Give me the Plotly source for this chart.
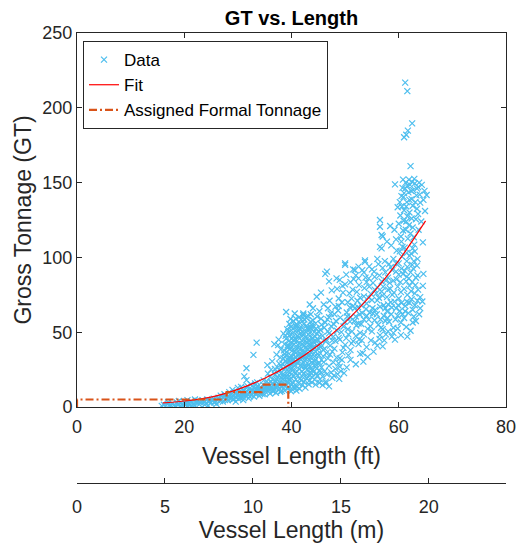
import plotly.graph_objects as go

# ---------------- data ----------------
# scattered vessel data: (length ft, gross tonnage)
pts_small = [(15.8,0.8),(16.2,1.5),(16.5,0.3),(16.9,2.0),(17.2,1.1),(17.5,0.5),(17.8,2.4),(18.1,1.3),
    (18.3,0.2),(18.6,3.0),(18.9,1.7),(19.2,0.6),(19.4,2.6),(19.7,1.0),(20.0,3.4),(20.2,1.9),(20.5,0.4),
    (20.8,2.8),(21.0,1.4),(21.3,3.8),(21.6,2.2),(21.9,0.9),(22.2,3.1),(22.5,4.2),(22.8,1.8),(23.1,2.9),
    (23.4,4.6),(23.7,3.5),(24.0,2.3),(24.3,5.0),(24.6,3.9),(24.9,2.8),(25.2,4.4),(25.5,5.6),(25.8,3.4),
    (26.1,4.8),(26.4,6.2),(26.7,3.9),(27.0,5.3),(27.3,6.8),(27.6,4.6),(27.9,5.9),(26.0,2.0),(22.0,5.0),
    (24.5,0.8),(19.0,4.0),(17.0,3.2),(20.6,4.6)]
pts_band = [(28.1,4.5),(28.3,7.2),(28.5,5.8),(28.7,8.6),(28.9,6.4),(29.1,4.9),(29.3,7.8),(29.5,9.4),
    (29.7,6.1),(29.9,8.2),(30.1,5.4),(30.3,10.1),(30.5,7.3),(30.7,8.9),(30.9,6.6),(31.1,11.0),(31.3,9.2),
    (31.5,7.5),(31.7,10.5),(31.9,8.3),(32.1,12.0),(32.3,9.8),(32.5,7.8),(32.7,11.3),(32.9,13.2),(33.1,10.0),
    (33.3,8.6),(33.5,12.4),(33.7,14.0),(33.9,10.8),(34.1,9.2),(34.3,13.1),(34.5,11.5),(34.7,15.0),(34.9,12.2),
    (35.1,10.3),(35.3,14.1),(35.5,12.8),(35.7,16.0),(35.9,11.4),(29.0,11.5),(30.0,12.8),(31.0,4.6),(32.0,5.8),
    (33.0,6.9),(34.0,7.4),(35.0,8.4),(36.0,9.0),(30.6,13.5),(32.4,15.2),(28.4,9.9),(33.6,16.5),(31.8,14.0),
    (29.6,3.6),(27.5,8.5),(26.8,7.6),(34.8,17.8),(36.2,13.3),(36.4,15.6),(36.6,10.5),
    (33.5,43.0),(32.9,34.8),(31.6,25.9),(31.6,18.0),(37.5,41.4),(31.2,20.5)]
pts_band2 = [(28.0,6.0),(28.6,7.8),(29.2,5.5),(29.8,9.8),(30.4,6.0),(31.0,8.0),(31.6,12.6),(32.2,7.0),
    (32.8,9.4),(33.4,11.2),(34.0,12.0),(34.6,8.6),(35.2,12.2),(35.8,13.6),(36.4,11.0),(37.0,13.0),(37.6,15.4),
    (38.2,10.8),(38.8,13.9),(39.4,15.8),(39.9,10.5),(40.4,14.0),(40.9,11.0),(41.5,12.2),(42.0,14.5),(42.6,13.0),
    (43.2,15.2),(43.8,16.5),(44.5,15.0),(45.2,16.2),(45.8,14.6),(46.4,15.8),(47.0,13.8),(30.8,9.8),(32.6,10.6),
    (34.4,10.2),(36.2,16.8),(37.2,18.5),(35.4,17.0),(33.2,15.8),(27.2,3.6),(26.4,5.2),(25.6,3.0),(24.8,4.1),
    (23.8,1.6),(22.6,2.6),(21.4,0.6),(20.4,2.3),(19.6,1.8),(18.4,0.9)]
pts_mid = [(36.8,12.0),(37.0,17.2),(37.2,14.5),(37.4,20.1),(37.6,11.8),(37.8,16.4),(38.0,22.5),(38.2,13.6),
    (38.4,18.8),(38.6,25.0),(38.8,15.2),(39.0,20.7),(39.2,12.4),(39.4,23.6),(39.6,17.9),(39.8,27.0),(40.0,14.8),
    (37.1,9.5),(37.9,10.2),(38.7,11.1),(39.5,13.0),(36.5,18.5),(37.3,22.8),(38.1,27.2),(38.9,30.5),(36.0,20.0),
    (35.6,22.3),(36.9,25.5),(37.7,29.0),(38.5,32.5),(36.3,12.1),(37.5,13.9),(38.3,16.0),(39.1,17.5),(39.9,19.4),
    (36.7,15.0),(38.0,19.5),(39.3,21.5),(40.2,11.6),(40.5,12.9),(41.0,13.5)]
pts_core = [(40.3,16.2),(40.8,18.5),(41.3,15.8),(41.8,17.9),(42.3,16.7),(42.8,19.2),(43.3,17.5),(43.8,20.1),
    (44.3,18.3),(44.8,21.0),(41.1,21.2),(42.0,20.5),(43.0,22.0),(40.0,21.8),(39.7,23.0),
    (39.5,26.0),(39.9,28.4),(40.2,24.3),(40.5,27.6),(40.8,23.0),(41.1,29.3),(41.4,25.5),(41.7,27.9),(42.0,23.8),
    (42.3,29.7),(42.6,26.2),(42.9,24.6),(43.2,28.5),(43.5,25.3),(43.8,29.9),(44.1,23.5),(44.4,27.0),(44.7,25.8),
    (45.0,28.8),(45.3,24.2),(39.2,29.5),(40.6,30.0),(41.9,26.8),(43.6,22.9),
    (38.8,33.5),(39.1,36.8),(39.4,31.2),(39.7,38.5),(40.0,34.0),(40.3,31.9),(40.6,37.1),(40.9,33.2),(41.2,39.4),
    (41.5,35.6),(41.8,31.5),(42.1,37.8),(42.4,34.2),(42.7,32.0),(43.0,38.6),(43.3,35.3),(43.6,33.1),(43.9,39.2),
    (44.2,36.0),(44.5,31.7),(44.8,38.0),(45.1,34.6),(39.8,32.5),(40.8,36.0),(41.7,33.9),(42.6,36.5),(43.4,31.0),
    (44.3,33.8),(38.6,37.8),(39.3,39.8),
    (38.7,42.0),(39.0,45.6),(39.3,41.3),(39.6,47.8),(39.9,43.2),(40.2,49.0),(40.5,41.9),(40.8,45.3),(41.1,47.6),
    (41.4,42.5),(41.7,49.5),(42.0,44.1),(42.3,40.6),(42.6,46.7),(42.9,43.0),(43.2,48.4),(43.5,41.7),(43.8,45.9),
    (44.1,43.6),(44.4,47.3),(44.7,41.0),(45.0,44.8),(40.0,40.5),(41.0,44.0),(42.2,48.0),(43.0,46.0),
    (39.2,52.0),(39.6,55.5),(40.0,51.2),(40.4,57.3),(40.8,53.6),(41.2,50.8),(41.6,56.1),(42.0,52.7),(42.4,58.5),
    (42.8,54.3),(43.2,51.5),(43.6,57.0),(44.0,53.1),(44.5,55.9),(45.0,50.6),(38.5,49.0),(41.4,60.0),(40.6,62.5),
    (39.8,58.8),(43.0,61.0),(37.6,45.0),(38.0,38.5),(37.2,35.0),(36.4,30.5),(35.5,28.0),(36.8,42.0),(42.2,62.5),
    (39.0,63.5),(44.8,60.5)]
pts_core2 = [(38.4,22.0),(38.9,26.5),(39.3,19.8),(39.7,31.0),(40.1,26.0),(40.4,20.5),(40.7,33.5),(41.0,24.0),
    (41.3,30.8),(41.6,19.0),(41.9,35.0),(42.2,22.3),(42.5,27.4),(42.8,33.8),(43.1,20.0),(43.4,27.0),(43.7,36.5),
    (44.0,25.0),(44.3,30.5),(44.6,22.2),(44.9,35.5),(45.2,29.5),(45.5,23.0),(39.0,34.5),(39.6,40.5),(40.1,37.5),
    (40.5,44.5),(40.9,39.0),(41.3,46.5),(41.6,38.5),(42.0,42.0),(42.3,37.0),(42.7,40.0),(43.1,44.5),(43.4,39.5),
    (43.8,42.5),(44.2,40.0),(44.6,44.0),(45.0,39.5),(45.4,42.5),(39.4,50.0),(39.9,53.5),(40.3,47.0),(40.7,51.0),
    (41.0,55.0),(41.5,52.5),(41.9,47.5),(42.3,55.5),(42.6,50.5),(43.0,53.0),(43.4,49.5),(43.8,55.0),(44.2,50.0),
    (44.6,52.5),(45.2,47.0),(45.6,55.0),(40.0,45.5),(42.5,44.0),(44.0,46.0),(41.2,41.5),(43.3,42.0),(38.3,29.0),
    (38.7,35.5),(37.9,33.0),(37.4,26.5),(36.9,21.5),(36.2,25.0),(37.8,24.5),(38.5,20.5),(39.6,33.5),(40.4,29.5),
    (41.5,32.5),(42.4,31.2),(43.2,34.0),(44.5,28.5),(45.6,31.5),(45.9,34.0),(46.2,39.0),(46.5,45.0),(46.8,50.5),
    (45.4,51.5),(44.0,58.0),(42.8,59.5),(41.8,58.5),(40.8,59.0),(43.6,62.0),(45.5,59.0),(46.3,56.5),(47.0,60.0),
    (39.5,44.0),(38.9,47.5),(40.7,54.7),(42.1,50.0),(43.6,52.8),(44.8,49.0)]
pts_blob = [(45.8,20.5),(46.2,24.0),(46.6,21.8),(47.0,27.5),(47.4,23.2),(47.8,29.8),(48.2,25.5),(48.6,22.0),
    (49.0,27.0),(49.4,31.5),(46.0,30.0),(46.8,32.5),(47.6,19.5),(48.4,33.0),(49.2,24.0),(45.6,26.5),(47.2,35.0),
    (48.8,29.2),(49.8,22.6),(50.3,26.5),(46.4,17.0),(45.3,18.5),(47.9,21.0),(48.9,18.8)]
pts_upper_mid = [(44.7,73.7),(42.2,61.5),(45.5,40.2),(45.8,47.5),(46.1,53.0),(46.4,43.8),(46.7,58.6),(47.0,49.2),
    (47.3,62.5),(47.6,44.5),(47.9,55.3),(48.2,67.0),(48.5,51.0),(48.8,46.2),(49.1,59.7),(49.4,70.0),(49.7,53.8),
    (50.0,41.5),(50.3,63.2),(50.6,48.6),(50.9,57.1),(51.2,72.4),(51.5,44.0),(51.8,66.0),(52.1,54.5),(45.2,64.0),
    (46.0,68.5),(47.1,71.0),(48.0,39.0),(49.5,36.5),(51.0,38.0),(52.5,42.0),(46.5,36.0),(45.9,38.2),(44.0,66.0),
    (43.4,68.5),(53.4,30.3),(52.0,28.6),(55.3,37.0),(58.7,47.0),(54.2,33.5),(56.0,41.0),(57.3,44.5),(58.0,50.5),
    (59.3,45.0),(57.0,52.0),(56.5,48.0),(59.8,52.5),(51.0,31.5),(52.8,35.5),
    (46.6,90.5),(46.3,89.0),(49.0,85.0),(50.2,88.5),(51.5,92.0),(52.5,86.0),(53.5,90.0),(54.5,94.0),(55.5,87.0),
    (56.2,95.5),(48.5,79.0),(50.0,82.0),(47.5,78.0),(48.4,86.0),(50.0,96.0),(53.7,97.0)]
pts_right = [(52.0,60.5),(52.4,66.8),(52.8,73.0),(53.2,62.7),(53.6,79.5),(54.0,69.2),(54.4,58.4),(54.8,75.6),
    (55.2,83.0),(55.6,64.9),(56.0,71.3),(56.4,88.0),(56.8,77.2),(57.2,61.0),(57.6,84.5),(58.0,68.6),(52.6,81.5),
    (53.0,55.5),(53.8,86.5),(54.6,63.0),(55.4,90.5),(56.2,55.0),(57.0,93.0),(57.8,73.5),(51.4,78.5),(50.8,76.0),
    (55.0,50.5),(53.5,48.5),(54.2,52.2),(56.6,58.5),
    (58.4,79.0),(58.8,91.5),(59.2,70.4),(59.6,85.3),(60.0,96.0),(60.4,76.8),(60.8,88.9),(61.2,67.5),(61.6,93.7),
    (62.0,81.0),(62.4,72.0),(62.8,97.5),(63.2,86.4),(63.6,78.5),(64.0,66.0),(63.0,68.0),(64.6,89.0),(58.6,62.0),
    (59.4,58.5),(60.2,64.2),(61.0,59.5),(61.8,62.8),(62.6,56.5),(58.2,95.5),(59.0,99.0),(60.6,100.5),(61.4,84.0),
    (62.2,90.0),(59.8,80.5),(58.0,86.5),(57.4,97.5),(63.4,94.5),(62.8,60.5),(60.0,72.5),(61.6,75.0),(57.8,64.0)]
pts_right2 = [(50.5,52.0),(51.0,60.0),(51.5,67.5),(52.0,47.5),(52.5,55.8),(53.0,68.0),(53.5,74.0),(54.0,61.0),
    (54.5,80.5),(55.0,71.5),(55.5,58.0),(56.0,80.0),(56.5,67.0),(57.0,74.5),(57.5,57.5),(58.0,78.5),(58.5,70.0),
    (59.0,84.5),(59.5,66.0),(60.0,88.5),(60.5,69.5),(61.0,79.0),(61.5,87.0),(62.0,69.5),(62.5,83.5),(63.0,76.0),
    (63.5,88.0),(64.0,73.5),(64.5,81.0),(58.2,57.0),(59.0,53.0),(60.4,56.5),(61.4,53.5),(62.2,51.0),(57.5,90.0),
    (58.5,93.5),(59.5,96.0),(60.5,92.5),(61.5,97.5),(62.5,95.0),(63.5,99.0),(55.8,76.0),(56.8,84.0),(54.4,86.0),
    (53.2,91.5),(52.2,77.0),(51.6,85.5),(50.5,70.0),(49.6,76.5),(48.8,72.5),(48.0,62.0),(47.4,54.0),(49.0,45.0),
    (50.2,46.0),(52.8,49.5),(54.8,44.5),(56.4,45.5),(57.6,48.5),(59.0,49.5),(60.4,48.0),(61.6,47.0),(55.2,62.5),
    (59.8,61.0),(63.8,62.0),(64.4,70.5),(63.2,57.5),(62.6,65.0),(61.2,64.0),(58.8,75.0),(57.2,68.0)]
pts_right3 = [(47.2,41.0),(47.8,47.0),(48.3,57.5),(48.7,64.5),(49.3,50.0),(49.9,57.0),(50.4,60.5),(50.9,66.5),
    (51.3,50.5),(51.7,57.5),(52.3,71.0),(52.7,62.0),(53.1,44.5),(53.5,58.5),(53.9,65.5),(54.3,73.5),(54.7,54.0),
    (55.1,66.0),(55.5,78.5),(55.9,62.0),(56.3,73.0),(56.7,53.0),(57.1,80.5),(57.5,66.0),(57.9,59.5),(58.3,83.0),
    (58.7,66.5),(59.1,76.5),(59.5,90.5),(59.9,68.0),(60.3,83.5),(60.7,62.0),(61.1,91.0),(61.5,70.5),(61.9,86.0),
    (62.3,77.5),(62.7,92.5),(63.1,81.5),(63.5,71.0),(48.2,44.0),(49.7,39.5),(51.2,42.5),(52.6,45.0),(54.0,40.0),
    (55.6,43.0),(57.0,40.5),(53.3,36.0),(50.6,34.5),(49.0,32.5),(47.6,37.0),(55.0,92.0),(56.0,99.0),(54.0,83.5),
    (52.0,88.0),(51.0,83.5),(49.5,81.0),(47.0,84.0),(45.5,76.5),(46.8,66.0),(48.8,67.5)]
pts_column = [(60.2,104.0),(60.5,110.5),(60.8,118.0),(61.1,106.5),(61.4,124.0),(61.7,112.5),(62.0,130.0),
    (62.3,102.5),(62.6,120.0),(60.6,134.0),(60.9,140.5),(61.2,146.0),(61.5,137.0),(61.8,143.5),(62.1,148.5),
    (62.4,139.0),(62.7,145.0),(63.0,149.5),(63.3,141.5),(63.6,147.0),(64.0,136.6),(65.2,141.7),(64.8,144.5),
    (60.3,128.0),(61.0,131.5),(61.6,127.5),(62.2,116.0),(62.9,108.5),(63.4,132.5),(59.3,148.8),(60.7,146.5),
    (61.3,150.0),(62.5,150.5),(63.8,150.0),(56.5,125.0),(56.5,120.5),(58.4,121.0),(57.0,114.0),(56.8,106.0),
    (56.8,115.0),(56.5,107.0),(53.7,98.0),(52.5,93.8),(51.8,91.6),(50.0,95.0),(59.5,112.0),(60.0,122.5),
    (63.7,118.5),(64.2,124.0),(64.5,110.0),
    (61.2,216.8),(61.6,211.2),(62.5,189.6),(61.7,184.7),(61.4,182.0),(61.0,180.3),(62.2,161.0)]
pts_column2 = [(60.4,114.0),(60.9,124.5),(61.3,118.5),(61.9,121.5),(62.4,126.0),(62.8,113.5),(63.2,125.5),
    (60.7,107.0),(61.5,103.0),(62.6,106.0),(61.4,134.0),(62.0,138.5),(62.6,134.5),(63.1,137.0),(61.0,143.0),
    (61.6,148.0),(62.3,144.5),(63.4,146.0),(63.9,142.0),(64.3,148.5),(60.5,141.0),(60.2,137.0),(59.8,133.5),
    (61.9,152.0),(62.9,152.5),(60.8,152.0),(64.6,138.5),(63.6,129.0),(62.0,101.0),(63.0,104.0),(59.6,104.5),
    (59.2,118.5),(58.6,108.0),(57.8,110.5),(64.9,131.0)]

data_points = (pts_small + pts_band + pts_band2 + pts_mid + pts_core + pts_core2 + pts_blob
               + pts_upper_mid + pts_right + pts_right2 + pts_right3 + pts_column + pts_column2)
data_length_ft = [p[0] for p in data_points]
data_gt = [p[1] for p in data_points]

# fitted curve
fit_length_ft = [16, 20, 25, 30, 35, 40, 45, 50, 55, 60, 65]
fit_gt = [2.7, 4.0, 6.6, 11.8, 19.2, 29.0, 41.3, 56.6, 75.4, 97.9, 124.4]

# assigned formal tonnage steps
step_length_ft = [0, 0, 27.9, 27.9, 34.4, 34.4, 39.4, 39.4]
step_gt = [0, 5, 5, 10, 10, 15, 15, 0]

FT_TO_M = 0.3048
x_range_ft = [0, 80]
y_range = [0, 250]

FONT = "Liberation Sans, Arial, Helvetica, sans-serif"
AX = "#262626"

fig = go.Figure()
fig.add_trace(go.Scatter(
    x=data_length_ft, y=data_gt, mode="markers", name="Data",
    marker=dict(symbol="x-thin", size=6, color="#4DBEEE",
                line=dict(color="#4DBEEE", width=1.2)),
))
fig.add_trace(go.Scatter(
    x=fit_length_ft, y=fit_gt, mode="lines", name="Fit",
    line=dict(color="#FF0000", width=1.2, shape="spline"),
))
fig.add_trace(go.Scatter(
    x=step_length_ft, y=step_gt, mode="lines", name="Assigned Formal Tonnage",
    line=dict(color="#D95319", width=2.2, dash="8px,3px,2px,3px"),
))
# hidden trace to carry the metric axis
fig.add_trace(go.Scatter(
    x=[v * FT_TO_M for v in step_length_ft], y=step_gt, xaxis="x2", yaxis="y",
    mode="lines", line=dict(width=0), opacity=0, showlegend=False, hoverinfo="skip",
))

fig.update_layout(
    width=517, height=548,
    margin=dict(l=77, r=11, t=33, b=10, autoexpand=False),
    paper_bgcolor="white", plot_bgcolor="white",
    font=dict(family=FONT, color=AX, size=18),
    title=dict(text="<b>GT vs. Length</b>", x=0.5, xref="paper", xanchor="center",
               y=0.968, yref="container", yanchor="middle",
               font=dict(family=FONT, size=20, color="#000000")),
    showlegend=True,
    legend=dict(x=0.014, y=0.984, xref="paper", yref="paper", xanchor="left", yanchor="top",
                bgcolor="white", bordercolor=AX, borderwidth=1,
                font=dict(family=FONT, size=17, color="#000000"),
                itemwidth=30, tracegroupgap=0),
    xaxis=dict(range=x_range_ft, domain=[0, 1], anchor="y", dtick=20, tick0=0,
               showline=True, linecolor=AX, linewidth=1, mirror="ticks",
               ticks="inside", ticklen=5, tickcolor=AX, tickwidth=1,
               showgrid=False, zeroline=False, automargin=False, ticklabelstandoff=3,
               tickfont=dict(family=FONT, size=18, color=AX),
               title=dict(text="Vessel Length (ft)", standoff=12,
                          font=dict(family=FONT, size=23, color=AX))),
    yaxis=dict(range=y_range, domain=[0.2594, 1], anchor="x", dtick=50, tick0=0,
               showline=True, linecolor=AX, linewidth=1, mirror="ticks",
               ticks="inside", ticklen=5, tickcolor=AX, tickwidth=1,
               showgrid=False, zeroline=False, automargin=False,
               tickfont=dict(family=FONT, size=18, color=AX),
               title=dict(text="Gross Tonnage (GT)", standoff=4,
                          font=dict(family=FONT, size=23, color=AX))),
    xaxis2=dict(range=[x_range_ft[0] * FT_TO_M, x_range_ft[1] * FT_TO_M],
                overlaying="x", anchor="free", position=0.1089, side="bottom",
                dtick=5, tick0=0,
                showline=True, linecolor=AX, linewidth=1,
                ticks="inside", ticklen=5, tickcolor=AX, tickwidth=1,
                showgrid=False, zeroline=False, automargin=False, ticklabelstandoff=7,
                tickfont=dict(family=FONT, size=18, color=AX),
                title=dict(text="Vessel Length (m)", standoff=4,
                           font=dict(family=FONT, size=23, color=AX))),
)

fig.write_html("out.html")
